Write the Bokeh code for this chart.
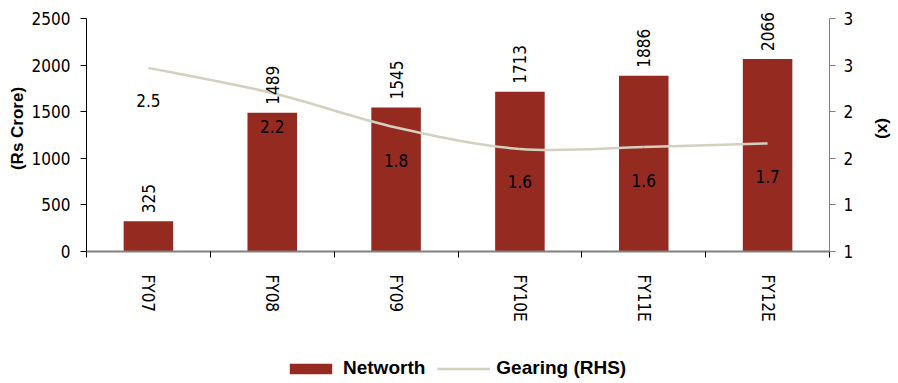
import math
from bokeh.plotting import figure
from bokeh.layouts import column
from bokeh.models import (Range1d, LinearAxis, FixedTicker, Legend, LegendItem,
                          ColumnDataSource)
from bokeh.core.properties import value
from bokeh.embed import file_html
from bokeh.resources import INLINE

# ---------------- data ----------------
years = ["FY07", "FY08", "FY09", "FY10E", "FY11E", "FY12E"]
networth = [325, 1489, 1545, 1713, 1886, 2066]
gearing = [2.47, 2.2, 1.83, 1.6, 1.62, 1.66]
left_ticks = [0, 500, 1000, 1500, 2000, 2500]
right_ticks = [0.5, 1.0, 1.5, 2.0, 2.5, 3.0]
right_tick_labels = ["1", "1", "2", "2", "3", "3"]
series_names = ["Networth", "Gearing (RHS)"]

BAR = "#952a20"
LINE = "#d3d0bf"
NUM_FONT = "DejaVu Sans Condensed"
BOLD_FONT = "Liberation Sans"

n = len(years)
xs = [i + 0.5 for i in range(n)]

# extra head-room above the axes so that the top value label is not clipped
PAD = 13 / 233
l_lo, l_hi = left_ticks[0], left_ticks[-1]
r_lo, r_hi = right_ticks[0], right_ticks[-1]

p = figure(width=898, height=340, output_backend="svg", toolbar_location=None,
           x_range=Range1d(0, n),
           y_range=Range1d(l_lo, l_hi + (l_hi - l_lo) * PAD),
           min_border_left=86, min_border_right=69, min_border_top=5,
           min_border_bottom=89, x_axis_type=None, y_axis_type=None)
p.outline_line_color = None
p.xgrid.visible = False
p.ygrid.visible = False
p.extra_y_ranges = {"g": Range1d(r_lo, r_hi + (r_hi - r_lo) * PAD)}

src = ColumnDataSource(dict(x=xs, year=years, nw=networth, g=gearing,
                            nwl=[str(v) for v in networth],
                            gl=[f"{v:.1f}" for v in gearing]))

p.vbar(x="x", top="nw", width=0.4, bottom=0, source=src,
       fill_color=BAR, line_color=None)

# smooth gearing curve (Catmull-Rom style bezier through the data points)
pts = list(zip(xs, gearing))
x0, y0, x1, y1, cx0, cy0, cx1, cy1 = [], [], [], [], [], [], [], []
for i in range(n - 1):
    pa = pts[i - 1] if i > 0 else pts[i]
    pb = pts[i]
    pc = pts[i + 1]
    pd = pts[i + 2] if i + 2 < n else pts[i + 1]
    x0.append(pb[0]); y0.append(pb[1]); x1.append(pc[0]); y1.append(pc[1])
    cx0.append(pb[0] + (pc[0] - pa[0]) / 6); cy0.append(pb[1] + (pc[1] - pa[1]) / 6)
    cx1.append(pc[0] - (pd[0] - pb[0]) / 6); cy1.append(pc[1] - (pd[1] - pb[1]) / 6)
p.bezier(x0=x0, y0=y0, x1=x1, y1=y1, cx0=cx0, cy0=cy0, cx1=cx1, cy1=cy1,
         line_color=LINE, line_width=2.5, y_range_name="g")

# value labels
p.text(x="x", y="nw", text="nwl", source=src, angle=math.pi / 2,
       text_align="left", text_baseline="middle", y_offset=-8,
       text_font=value(NUM_FONT), text_font_size="17px", text_color="black")
p.text(x="x", y="g", text="gl", source=src, y_range_name="g",
       text_align="center", text_baseline="middle", y_offset=33,
       text_font=value(NUM_FONT), text_font_size="17px", text_color="black")

# axes
ly = LinearAxis(ticker=FixedTicker(ticks=left_ticks), bounds=(l_lo, l_hi))
ly.axis_label = "(Rs Crore)"
ly.axis_label_text_font = BOLD_FONT
ly.axis_label_text_font_style = "bold"
ly.axis_label_text_font_size = "17px"
ly.axis_label_text_color = "black"
ly.axis_label_standoff = 2
ly.major_label_text_font = NUM_FONT
ly.major_label_text_font_size = "17px"
ly.major_label_text_color = "black"
ly.major_label_standoff = 10
ly.major_tick_in = 0
ly.major_tick_out = 6
ly.minor_tick_line_color = None
ly.axis_line_color = "black"
ly.major_tick_line_color = "black"
p.add_layout(ly, "left")

ry = LinearAxis(y_range_name="g", ticker=FixedTicker(ticks=right_ticks),
                bounds=(r_lo, r_hi))
ry.major_label_overrides = {t: l for t, l in zip(right_ticks, right_tick_labels)}
ry.axis_label = "(x)"
ry.axis_label_text_font = BOLD_FONT
ry.axis_label_text_font_style = "bold"
ry.axis_label_text_font_size = "17px"
ry.axis_label_text_color = "black"
ry.axis_label_standoff = 18
ry.major_label_text_font = NUM_FONT
ry.major_label_text_font_size = "17px"
ry.major_label_text_color = "black"
ry.major_label_standoff = 8
ry.major_tick_in = 0
ry.major_tick_out = 6
ry.minor_tick_line_color = None
ry.axis_line_color = "#7f7f7f"
ry.major_tick_line_color = "#7f7f7f"
p.add_layout(ry, "right")

bx = LinearAxis(ticker=FixedTicker(ticks=xs, minor_ticks=list(range(n + 1))))
bx.major_label_overrides = {x: y for x, y in zip(xs, years)}
bx.major_label_orientation = "vertical"
bx.major_label_text_font = NUM_FONT
bx.major_label_text_font_size = "17px"
bx.major_label_text_color = "black"
bx.major_tick_line_color = None
bx.major_tick_out = 0
bx.major_tick_in = 0
bx.major_label_standoff = 17
bx.minor_tick_in = 0
bx.minor_tick_out = 6
bx.minor_tick_line_color = "black"
bx.axis_line_color = "#808080"
bx.axis_line_width = 2
p.add_layout(bx, "below")

# ---------------- legend strip ----------------
lg = figure(width=898, height=43, output_backend="svg", toolbar_location=None,
            x_range=Range1d(0, 1), y_range=Range1d(0, 1), min_border=0,
            x_axis_type=None, y_axis_type=None)
lg.outline_line_color = None
lg.xgrid.visible = False
lg.ygrid.visible = False
leg_bar = lg.vbar(x=[math.nan], top=[math.nan], width=0.4, bottom=0,
                  fill_color=BAR, line_color=None)
leg_line = lg.line(x=[math.nan], y=[math.nan], line_color=LINE, line_width=2.5)
legend = Legend(items=[LegendItem(label=series_names[0], renderers=[leg_bar]),
                       LegendItem(label=series_names[1], renderers=[leg_line])],
                location=(198, 4), orientation="horizontal",
                glyph_width=53, glyph_height=13, label_standoff=6, spacing=12,
                padding=0, margin=0, border_line_color=None,
                background_fill_alpha=0,
                label_text_font=BOLD_FONT, label_text_font_style="bold",
                label_text_font_size="19px", label_text_color="black")
lg.add_layout(legend, "center")

open("out.html", "w").write(file_html(column(p, lg), INLINE))
